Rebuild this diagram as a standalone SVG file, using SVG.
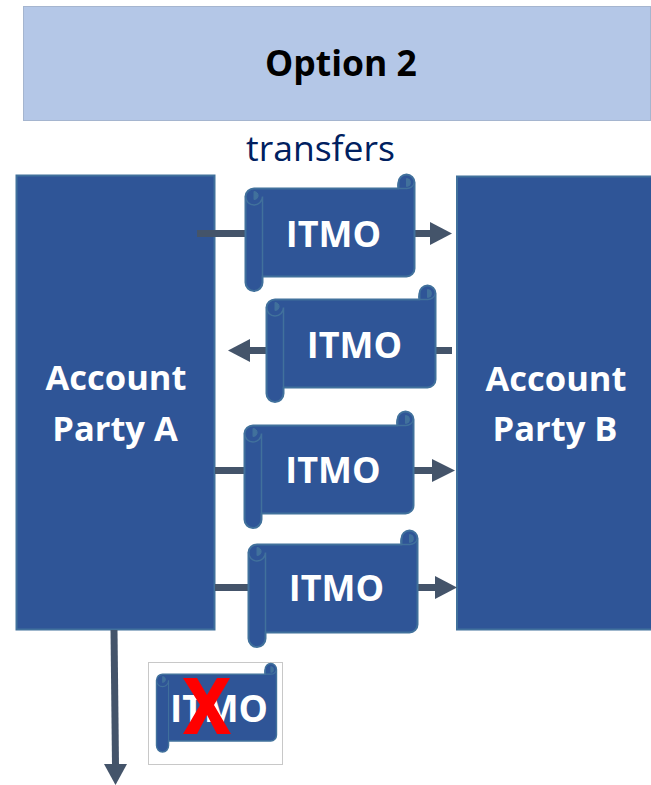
<svg xmlns="http://www.w3.org/2000/svg" width="651" height="785" viewBox="0 0 651 785">
<style>
.acc{fill:#2f5597;stroke:#41719c;stroke-width:2}
.s{fill:#2f5597;stroke:#41719c;stroke-width:2;stroke-linejoin:round}
.d{fill:#41719c;stroke:#41719c;stroke-width:1}
text{font-family:"Open Sans","Noto Sans","Liberation Sans",sans-serif;text-anchor:middle}
.w{fill:#fff;font-weight:700;font-size:34.500px}
.i{fill:#fff;font-weight:700;font-size:36px}
.l{stroke:#44546a;stroke-width:7;fill:none}
.h{fill:#44546a}
</style>
<defs>
<g id="scroll">
<path class="s" d="M17 14H153V8A8 8 0 0 1 169 8V94A8 8 0 0 1 161 102H17V108A8.500 8.500 0 0 1 0 108V22A8.500 8.500 0 0 1 8.500 14Z"/>
<path fill="none" stroke="#41719c" stroke-width="1.500" d="M0 22A8.500 8.500 0 0 0 17 22V102M153 14H161A8 8 0 0 0 169 8M153 8A8 8 0 0 0 153 14"/>
<path class="d" d="M8.500 17A4 4 0 0 1 12.500 22A4 4 0 0 1 8.500 25ZM161 4A4 4 0 0 1 165 8A4 4 0 0 1 161 12Z"/>
</g>
</defs>
<g id="header">
<rect x="23.500" y="6.500" width="627" height="114" fill="#b4c7e7" stroke="#a5b5cf" stroke-width="1"/>
<text x="341" y="76" font-size="35.500" font-weight="700" fill="#000">Option 2</text>
</g>
<g id="transfers-label"><text x="320.500" y="161" font-size="35.500" fill="#002060">transfers</text></g>
<g id="account-a">
<rect class="acc" x="16.500" y="175.500" width="198" height="454"/>
<text class="w" x="116" y="390">Account</text><text class="w" x="115" y="441">Party A</text>
</g>
<g id="account-b">
<rect class="acc" x="457" y="176.500" width="196" height="453"/>
<text class="w" x="556" y="391">Account</text><text class="w" x="555" y="441">Party B</text>
</g>
<g id="connectors">
<path class="l" d="M197 233.500H245M415 233.500H431"/><path class="h" d="M430 222L452 233.500L430 245Z"/>
<path class="l" d="M452 350.500H436M266 350.500H248"/><path class="h" d="M250 339L228 350.500L250 362Z"/>
<path class="l" d="M215 470.500H244M414 470.500H434"/><path class="h" d="M432 459L455 470.500L432 482Z"/>
<path class="l" d="M215 587.500H248M418 587.500H436"/><path class="h" d="M435 576L457 587.500L435 599Z"/>
<path class="l" d="M114 630L115.500 765"/><path class="h" d="M104 764H127L115.500 785Z"/>
</g>
<g id="itmo-1"><use href="#scroll" x="245.500" y="174.500"/><text class="i" x="333.500" y="247">ITMO</text></g>
<g id="itmo-2"><use href="#scroll" x="266.500" y="285.500"/><text class="i" x="354.500" y="358">ITMO</text></g>
<g id="itmo-3"><use href="#scroll" x="244.500" y="411.500"/><text class="i" x="333" y="483">ITMO</text></g>
<g id="itmo-4"><use href="#scroll" x="248.500" y="530.500"/><text class="i" x="336.500" y="601">ITMO</text></g>
<g id="itmo-cancelled">
<rect x="148.500" y="662.500" width="134" height="102" fill="#fff" stroke="#c8c8c8"/>
<use href="#scroll" transform="translate(156.500 663.500) scale(.71 .76)"/>
<text class="i" x="219" y="722" style="font-size:37px">ITMO</text>
<path fill="#f00" d="M183 678H197L207 695L217 678H230L214 705L231 734H217L207 715L197 734H183L200 705Z"/>
</g>
</svg>
